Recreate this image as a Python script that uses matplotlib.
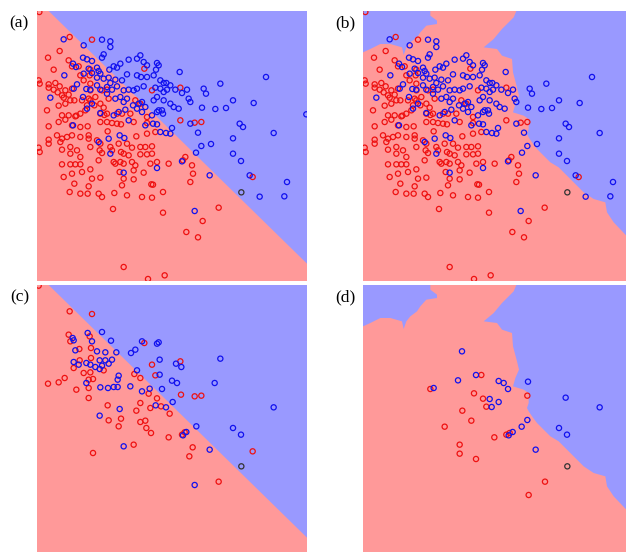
import matplotlib
matplotlib.use("Agg")
import matplotlib.pyplot as plt
import numpy as np

# ---------------- data (common plane coordinates) ----------------
# Full training set shown in panels (a) and (b)
full_red = [(117,35),(208,110),(275,118),(178,152),(143,172),(205,180),(215,198),(235,198),(160,208),
    (240,225),(268,225),(270,208),(115,240),(118,250),(145,252),(145,262),(165,248),(178,258),(195,270),
    (160,268),(172,276),(185,285),(205,283),(215,265),(250,240),(270,250),(270,270),(265,295),(245,300),
    (210,300),(190,292),(195,310),(222,300),(140,330),(175,316),(185,345),(205,345),(225,348),(240,340),
    (255,330),(260,315),(270,300),(285,290),(282,315),(300,310),(305,270),(320,268),(325,295),(310,322),
    (300,340),(320,340),(350,340),(365,340),(390,340),(440,350),(540,360),(432,205),(455,270),(540,262),
    (405,300),(420,310),(145,378),(175,365),(195,358),(215,375),(240,380),(262,378),(300,365),(320,365),
    (335,368),(350,370),(362,372),(400,365),(440,368),(465,395),(440,400),(583,367),(603,365),(145,418),
    (145,430),(170,405),(185,415),(180,425),(200,410),(215,405),(240,410),(265,405),(265,415),(290,420),
    (300,430),(330,440),(355,430),(408,408),(380,430),(395,442),(420,440),(435,440),(455,438),(115,442),
    (118,455),(185,448),(210,440),(210,460),(230,450),(240,470),(270,440),(298,450),(305,458),(335,450),
    (362,455),(370,460),(385,465),(420,462),(440,462),(455,460),(555,470),(548,480),(185,492),(210,492),
    (225,492),(240,492),(270,507),(295,480),(340,485),(345,490),(360,485),(370,490),(395,485),(405,495),
    (450,490),(470,485),(505,490),(575,495),(578,520),(757,530),(215,520),(190,530),(245,515),(275,535),
    (300,532),(358,515),(370,535),(400,510),(400,537),(430,517),(570,545),(453,552),(458,553),(365,555),
    (222,550),(265,558),(208,575),(240,580),(262,580),(295,580),(305,590),(342,578),(380,585),(425,590),
    (455,592),(488,575),(338,626),(655,622),(488,637),(607,662),(558,695),(593,711),(370,800),(443,836),
    (493,825),(312,344),(322,393),(228,346)]
full_blue = [(190,117),(305,118),(330,123),(330,140),(250,135),(310,162),(305,172),(248,172),(260,177),
    (275,182),(218,190),(227,200),(265,205),(290,202),(295,212),(340,198),(327,208),(350,202),(360,190),
    (385,178),(420,165),(410,175),(430,185),(440,195),(470,188),(475,195),(192,225),(250,220),(275,218),
    (300,220),(290,232),(310,235),(325,232),(345,238),(365,240),(380,222),(410,225),(422,230),(440,230),
    (460,225),(467,208),(480,240),(538,215),(490,248),(498,248),(230,252),(220,265),(258,266),(270,268),
    (300,268),(290,255),(320,260),(330,248),(350,258),(335,268),(370,270),(385,268),(400,270),(410,265),
    (430,258),(465,262),(480,265),(490,275),(500,268),(525,268),(560,268),(610,265),(660,250),(797,230),
    (545,278),(510,255),(150,292),(248,290),(275,310),(260,325),(320,280),(345,295),(360,290),(370,305),
    (380,295),(398,315),(415,310),(425,305),(435,320),(460,300),(470,290),(490,300),(510,310),(520,320),
    (535,325),(565,295),(570,305),(617,280),(698,300),(760,308),(605,322),(645,326),(677,323),(475,330),
    (300,338),(340,345),(355,335),(375,328),(410,325),(425,335),(455,345),(470,335),(485,330),(488,340),
    (918,342),(218,375),(385,360),(435,375),(458,370),(470,372),(480,395),(497,398),(515,383),(510,400),
    (570,370),(593,397),(718,370),(728,380),(820,398),(295,425),(325,415),(358,405),(372,413),(603,437),
    (632,431),(698,414),(330,460),(587,457),(698,460),(545,483),(470,503),(722,482),(628,525),(748,525),
    (370,517),(860,545),(778,589),(852,588),(583,632)]
query_point = [(723,576)]

# Reduced set shown in panel (c)
mid_red = [(115,34),(208,111),(275,119),(205,181),(210,201),(237,224),(272,221),(220,281),(238,258),
    (250,296),(270,294),(278,314),(265,316),(265,341),(193,311),(175,324),(143,328),(228,346),(265,371),
    (310,288),(272,251),(268,186),(432,206),(455,271),(465,303),(402,299),(420,311),(445,358),(470,372),
    (420,386),(450,401),(482,396),(508,418),(540,261),(542,361),(583,366),(603,364),(322,393),(362,433),
    (325,438),(355,456),(408,409),(435,439),(420,443),(438,461),(452,476),(505,489),(545,481),(553,474),
    (577,519),(567,546),(400,511),(278,536),(757,531),(655,622)]
mid_blue = [(262,176),(217,191),(220,198),(275,201),(305,173),(332,199),(225,228),(290,231),(315,234),
    (348,234),(392,236),(405,226),(425,201),(470,208),(475,204),(220,263),(235,271),(258,266),(270,271),
    (285,278),(298,258),(315,258),(335,256),(325,268),(305,274),(298,284),(258,326),(300,339),(323,341),
    (340,338),(352,338),(352,316),(355,304),(390,336),(410,288),(425,351),(448,343),(485,344),(478,256),
    (478,301),(515,319),(530,326),(527,268),(543,278),(660,253),(643,326),(517,383),(466,393),(497,399),
    (358,404),(298,424),(588,456),(698,461),(722,481),(820,399),(628,526),(548,483),(558,473),(370,516),
    (583,632)]

# Small set shown in panel (d)
small_red = [(465,302),(312,344),(443,357),(470,373),(480,397),(408,409),(435,439),(355,457),(504,489),
    (540,481),(550,476),(603,364),(400,511),(400,538),(449,554),(656,622),(607,662)]
small_blue = [(407,231),(395,318),(449,302),(322,341),(517,320),(532,326),(545,344),(605,322),(490,374),
    (496,398),(517,383),(718,370),(820,399),(603,437),(586,457),(698,461),(722,481),(559,473),(547,483),
    (628,526)]

# Linear decision boundary (panels a, c): blue side polygon
linear_blue_region = [(145,32),(920,790),(920,32)]

# Nonlinear decision boundary (panels b, d): blue region polygons
nl_blue_left = [(110,32),(312,32),(312,46),(332,61),(332,71),(300,76),(282,96),(272,111),(252,126),
    (240,141),(232,164),(227,141),(192,131),(162,131),(132,146),(110,156)]
nl_blue_right = [(570,32),(562,51),(527,86),(502,116),(472,141),(512,146),(527,166),(557,176),(560,216),
    (572,261),(578,286),(567,311),(560,336),(592,346),(607,356),(607,386),(602,401),(607,411),(617,426),
    (632,446),(652,466),(672,486),(697,501),(722,526),(752,556),(772,576),(802,596),(837,606),(842,636),
    (862,666),(900,706),(920,712),(920,32)]

labels = ["(a)", "(b)", "(c)", "(d)"]

RED_BG = "#ff9999"
BLUE_BG = "#9999ff"

# ---------------- figure ----------------
W, H = 626, 552
fig = plt.figure(figsize=(W/100, H/100), dpi=100)

def rect(left, top, w=270, h=270):
    return [left/W, 1 - (top + h)/H, w/W, h/H]

panels = [
    (rect(37, 11), [linear_blue_region], full_red, full_blue),
    (rect(363, 11), [nl_blue_left, nl_blue_right], full_red, full_blue),
    (rect(37, 285), [linear_blue_region], mid_red, mid_blue),
    (rect(363, 285), [nl_blue_left, nl_blue_right], small_red, small_blue),
]

def xy(pts):
    a = np.array(pts, dtype=float)
    return a[:, 0], a[:, 1]

for (pos, regions, reds, blues), lab in zip(panels, labels):
    ax = fig.add_axes(pos)
    ax.set_xlim(110, 920)
    ax.set_ylim(842, 32)
    ax.set_facecolor(RED_BG)
    for reg in regions:
        px, py = xy(reg)
        ax.fill(px, py, color=BLUE_BG, lw=0, zorder=1)
    rx, ry = xy(reds)
    bx, by = xy(blues)
    qx, qy = xy(query_point)
    kw = dict(s=14, facecolors="none", linewidths=0.9, zorder=3)
    ax.scatter(rx, ry, edgecolors="#ee1111", **kw)
    ax.scatter(bx, by, edgecolors="#1111ee", **kw)
    ax.scatter(qx, qy, edgecolors="#333333", **kw)
    ax.set_xticks([]); ax.set_yticks([])
    for s in ax.spines.values():
        s.set_visible(False)
    x0, y0, w, h = pos
    fig.text(x0 - 8/W, y0 + h - 4/H, lab, ha="right", va="top",
             fontsize=12.5, family=["Liberation Serif", "DejaVu Serif"])

fig.savefig("out.png", dpi=100)
